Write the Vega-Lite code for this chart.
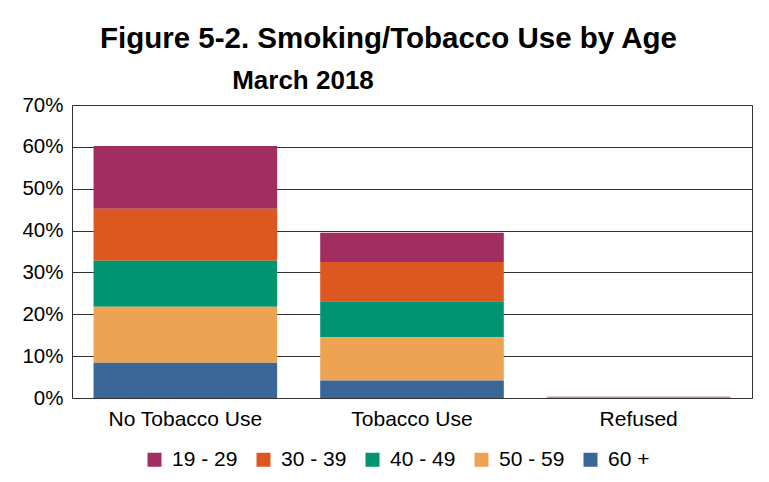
{
  "$schema": "https://vega.github.io/schema/vega-lite/v6.json",
  "autosize": "none",
  "width": 680,
  "height": 293,
  "padding": {"left": 72, "top": 105, "right": 17, "bottom": 84},
  "background": "white",
  "title": {
    "text": "Figure 5-2. Smoking/Tobacco Use by Age",
    "subtitle": "March 2018\u2800\u2800\u2800\u2800\u2800\u2800\u2800\u2800\u2800",
    "anchor": "middle",
    "frame": "group",
    "dx": -23.5,
    "offset": 0,
    "font": "Liberation Sans",
    "fontSize": 29.5,
    "fontWeight": "bold",
    "color": "black",
    "subtitleFont": "Liberation Sans",
    "subtitleFontSize": 26,
    "subtitleFontWeight": "bold",
    "subtitleColor": "black",
    "subtitlePadding": 14
  },
  "data": {
    "values": [
      {"category": "No Tobacco Use", "age": "19 - 29", "pct": 15.0},
      {"category": "No Tobacco Use", "age": "30 - 39", "pct": 12.4},
      {"category": "No Tobacco Use", "age": "40 - 49", "pct": 11.0},
      {"category": "No Tobacco Use", "age": "50 - 59", "pct": 13.4},
      {"category": "No Tobacco Use", "age": "60 +", "pct": 8.4},
      {"category": "Tobacco Use", "age": "19 - 29", "pct": 7.0},
      {"category": "Tobacco Use", "age": "30 - 39", "pct": 9.4},
      {"category": "Tobacco Use", "age": "40 - 49", "pct": 8.6},
      {"category": "Tobacco Use", "age": "50 - 59", "pct": 10.3},
      {"category": "Tobacco Use", "age": "60 +", "pct": 4.2},
      {"category": "Refused", "age": "19 - 29", "pct": 0.1},
      {"category": "Refused", "age": "30 - 39", "pct": 0.05},
      {"category": "Refused", "age": "40 - 49", "pct": 0.05},
      {"category": "Refused", "age": "50 - 59", "pct": 0.05},
      {"category": "Refused", "age": "60 +", "pct": 0.05}
    ]
  },
  "mark": {"type": "bar"},
  "encoding": {
    "x": {
      "field": "category",
      "type": "nominal",
      "sort": ["No Tobacco Use", "Tobacco Use", "Refused"],
      "scale": {"paddingInner": 0.19, "paddingOuter": 0.095},
      "axis": {
        "title": null,
        "labelAngle": 0,
        "domain": false,
        "ticks": false,
        "labelPadding": 10,
        "labelFont": "Liberation Sans",
        "labelFontSize": 21,
        "labelColor": "black"
      }
    },
    "y": {
      "field": "pct",
      "type": "quantitative",
      "stack": "zero",
      "scale": {"domain": [0, 70], "nice": false},
      "axis": {
        "title": null,
        "values": [0, 10, 20, 30, 40, 50, 60, 70],
        "labelExpr": "datum.value + '%'",
        "domain": false,
        "ticks": false,
        "labelPadding": 9,
        "labelFont": "Liberation Sans",
        "labelFontSize": 20.5,
        "labelColor": "black",
        "grid": true,
        "gridColor": "#333333",
        "gridOpacity": 1,
        "gridWidth": 1
      }
    },
    "color": {
      "field": "age",
      "type": "nominal",
      "scale": {
        "domain": ["19 - 29", "30 - 39", "40 - 49", "50 - 59", "60 +"],
        "range": ["#A22D60", "#DC5820", "#009570", "#EEA353", "#3A6698"]
      },
      "legend": {
        "title": null,
        "orient": "none",
        "direction": "horizontal",
        "legendX": 72,
        "legendY": 344,
        "symbolType": "square",
        "symbolSize": 196,
        "symbolStrokeWidth": 0,
        "symbolOpacity": 1,
        "labelFont": "Liberation Sans",
        "labelFontSize": 21,
        "labelColor": "black",
        "labelOffset": 7,
        "columnPadding": 15
      }
    },
    "order": {"field": "age", "sort": "descending"}
  },
  "config": {
    "view": {"stroke": "#333333", "strokeWidth": 1}
  }
}
